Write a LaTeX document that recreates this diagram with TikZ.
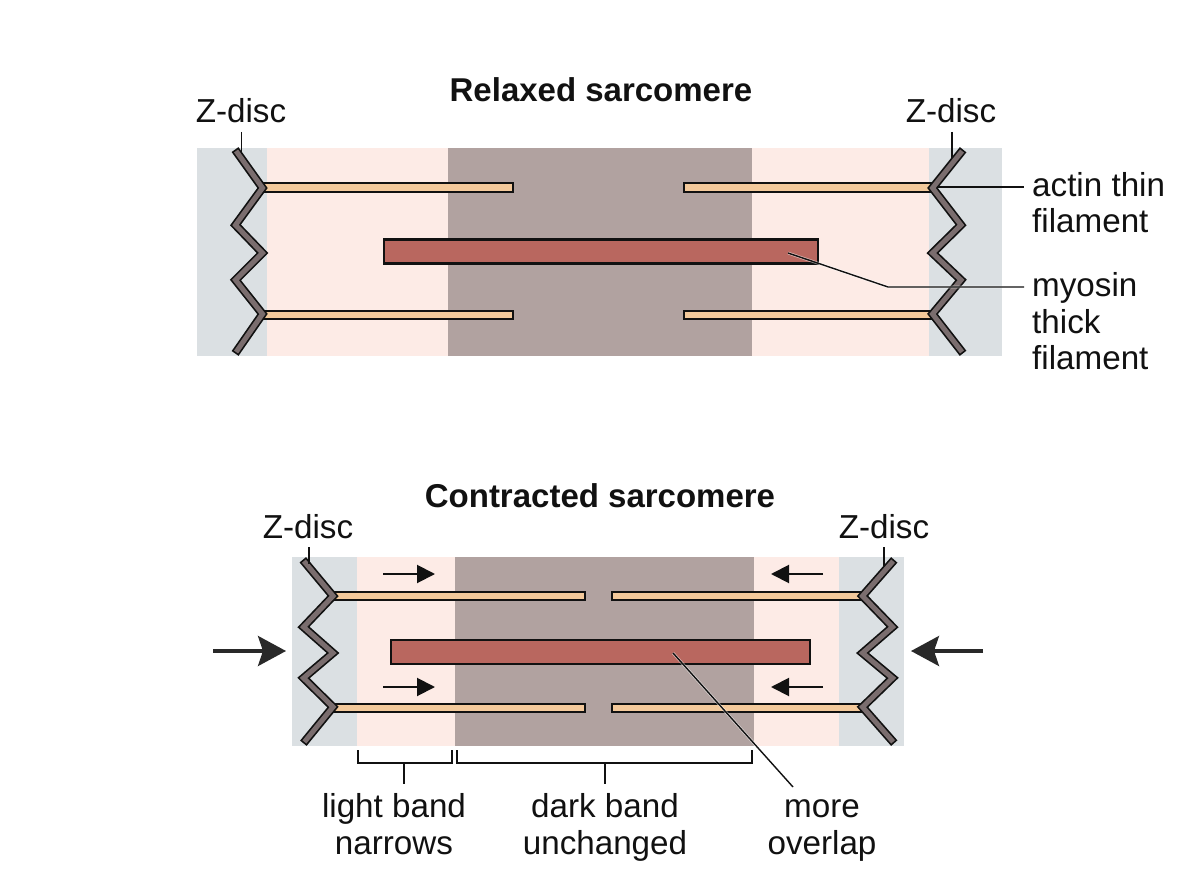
\documentclass[tikz,border=0pt]{standalone}
\usepackage{fontspec}
\setmainfont{Liberation Sans}
\usetikzlibrary{arrows.meta}
\definecolor{zband}{HTML}{DBE0E3}
\definecolor{lightband}{HTML}{FDEBE6}
\definecolor{darkband}{HTML}{B1A2A0}
\definecolor{actinfill}{HTML}{F3C99B}
\definecolor{myosinfill}{HTML}{B9675F}
\definecolor{discfill}{HTML}{7A6D6E}
\definecolor{ink}{HTML}{111111}
\tikzset{
  x=1pt, y=-1pt,
  title/.style={font=\fontsize{33}{36}\selectfont\bfseries, text=ink, anchor=base, inner sep=0pt},
  label/.style={font=\fontsize{33.2}{36}\selectfont, text=ink, anchor=base, inner sep=0pt},
  actin/.style={fill=actinfill, draw=ink, line width=2pt},
  myosin/.style={fill=myosinfill, draw=ink, line width=2.3pt},
  discout/.style={draw=ink, line width=8.4pt, miter limit=10, line cap=rect},
  discin/.style={draw=discfill, line width=5pt, miter limit=10, line cap=rect},
  leader/.style={draw=ink, line width=1.4pt},
  halo/.style={draw=white, line width=2.8pt, opacity=.55},
  bracket/.style={draw=ink, line width=1.4pt},
  smallarrow/.style={draw=ink, line width=2pt, -{Stealth[length=18pt,width=18pt,inset=0pt]}},
  bigarrow/.style={draw=ink!90, line width=3.4pt, -{Stealth[length=28pt,width=30pt,inset=5pt]}},
}
\newcommand{\zigzag}[7]{%
  \draw[discout] #1 -- #2 -- #3 -- #4 -- #5 -- #6 -- #7;
  \draw[discin] #1 -- #2 -- #3 -- #4 -- #5 -- #6 -- #7;
}
\begin{document}
\begin{tikzpicture}
\useasboundingbox[fill=white] (0,0) rectangle (1200,896);

% relaxed sarcomere: bands
\fill[zband] (197,148) rectangle (267,356);
\fill[lightband] (267,148) rectangle (448,356);
\fill[darkband] (448,148) rectangle (752,356);
\fill[lightband] (752,148) rectangle (929,356);
\fill[zband] (929,148) rectangle (1002,356);

% relaxed sarcomere: filaments
\draw[actin] (264,183.5) rectangle (513,192);
\draw[actin] (684,183.5) rectangle (934,192);
\draw[actin] (264,310.5) rectangle (513,319);
\draw[actin] (684,310.5) rectangle (934,319);
\draw[myosin] (384,239.5) rectangle (818,263.5);

% relaxed sarcomere: Z-discs
\zigzag{(237.5,153)}{(262.5,188)}{(235.5,225)}{(262.5,253)}{(235.5,280)}{(262.5,314)}{(237.5,350)}
\zigzag{(960.5,153)}{(932.5,188)}{(961,225)}{(932.5,253)}{(961,280)}{(932.5,314)}{(960.5,350)}

% relaxed sarcomere: text
\node[title] (title1) at (601,102) {Relaxed sarcomere};
\node[label] (zd1) at (241,123) {Z-disc};
\node[label] (zd2) at (951,123) {Z-disc};
\node[label,anchor=base west] (actinA) at (1032,197) {actin thin};
\node[label,anchor=base west] (actinB) at (1032,233) {filament};
\node[label,anchor=base west] (myoA) at (1032,297) {myosin};
\node[label,anchor=base west] (myoB) at (1032,333) {thick};
\node[label,anchor=base west] (myoC) at (1032,369) {filament};

% relaxed sarcomere: leaders
\coordinate (zd1end) at (241.5,154);
\coordinate (zd1top) at (241.5,132);
\coordinate (zd2end) at (952,158);
\coordinate (zd2top) at (952,132);
\coordinate (actinEnd) at (937,187);
\coordinate (actinTip) at (1024,187);
\coordinate (myoEnd) at (788,253);
\coordinate (myoKnee) at (888,287);
\coordinate (myoTip) at (1024,287);
\draw[leader] (zd1top) -- (zd1end);
\draw[leader] (zd2top) -- (zd2end);
\draw[leader] (actinEnd) -- (actinTip);
\draw[halo] (myoEnd) -- (myoKnee) -- (myoTip);
\draw[leader] (myoEnd) -- (myoKnee) -- (myoTip);

% contracted sarcomere: bands
\fill[zband] (292,557) rectangle (357,746);
\fill[lightband] (357,557) rectangle (455,746);
\fill[darkband] (455,557) rectangle (754,746);
\fill[lightband] (754,557) rectangle (839,746);
\fill[zband] (839,557) rectangle (904,746);

% contracted sarcomere: filaments
\draw[actin] (333,591.5) rectangle (585,600);
\draw[actin] (611.5,591.5) rectangle (863,600);
\draw[actin] (333,703.5) rectangle (585,712);
\draw[actin] (611.5,703.5) rectangle (863,712);
\draw[myosin] (391,640) rectangle (810,664);

% contracted sarcomere: Z-discs
\zigzag{(305.5,563)}{(333,596)}{(303.5,627)}{(333,653)}{(303.5,678)}{(333,707)}{(306,740)}
\zigzag{(891.5,563)}{(862.5,596)}{(892.5,627)}{(862.5,653)}{(892.5,678)}{(862.5,707)}{(891.5,740)}

% contracted sarcomere: sliding arrows
\coordinate (slA0) at (383,574);  \coordinate (slA1) at (435,574);
\coordinate (slB0) at (383,687);  \coordinate (slB1) at (435,687);
\coordinate (slC0) at (823,574);  \coordinate (slC1) at (771,574);
\coordinate (slD0) at (823,687);  \coordinate (slD1) at (771,687);
\draw[smallarrow] (slA0) -- (slA1);
\draw[smallarrow] (slB0) -- (slB1);
\draw[smallarrow] (slC0) -- (slC1);
\draw[smallarrow] (slD0) -- (slD1);

% contracted sarcomere: shortening arrows
\coordinate (pushL0) at (213,651);  \coordinate (pushL1) at (286,651);
\coordinate (pushR0) at (983,651);  \coordinate (pushR1) at (911,651);
\draw[bigarrow] (pushL0) -- (pushL1);
\draw[bigarrow] (pushR0) -- (pushR1);

% contracted sarcomere: text
\node[title] (title2) at (600,507) {Contracted sarcomere};
\node[label] (zd3) at (308,538) {Z-disc};
\node[label] (zd4) at (884,538) {Z-disc};
\node[label] (lightA) at (394,817) {light band};
\node[label] (lightB) at (394,854) {narrows};
\node[label] (darkA) at (605,817) {dark band};
\node[label] (darkB) at (605,854) {unchanged};
\node[label] (moreA) at (822,817) {more};
\node[label] (moreB) at (822,854) {overlap};

% contracted sarcomere: leaders and brackets
\coordinate (zd3top) at (309,547);  \coordinate (zd3end) at (309,564);
\coordinate (zd4top) at (884,547);  \coordinate (zd4end) at (884,566);
\coordinate (ovEnd) at (673,653);   \coordinate (ovTip) at (793,787);
\draw[leader] (zd3top) -- (zd3end);
\draw[leader] (zd4top) -- (zd4end);
\draw[halo] (ovEnd) -- (ovTip);
\draw[leader] (ovEnd) -- (ovTip);
\coordinate (brA0) at (358,750);  \coordinate (brA1) at (452,750);
\coordinate (brAs) at (404,763);  \coordinate (brAe) at (404,784);
\coordinate (brB0) at (457,750);  \coordinate (brB1) at (752,750);
\coordinate (brBs) at (605,763);  \coordinate (brBe) at (605,784);
\draw[bracket] (brA0) -- (358,763) -- (452,763) -- (brA1);
\draw[bracket] (brAs) -- (brAe);
\draw[bracket] (brB0) -- (457,763) -- (752,763) -- (brB1);
\draw[bracket] (brBs) -- (brBe);
\end{tikzpicture}
\end{document}
